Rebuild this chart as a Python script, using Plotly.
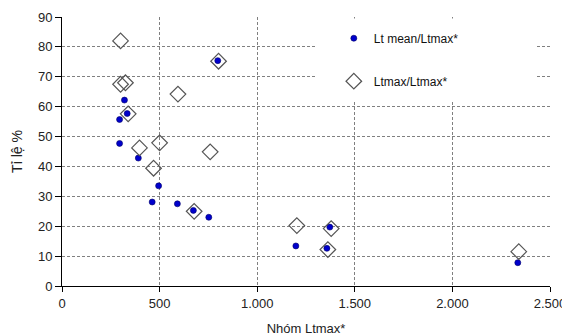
import plotly.graph_objects as go

# Data
mean_x = [320, 295, 334, 295, 391, 495, 462, 591, 673, 752, 798, 1198, 1372, 1357, 2335]
mean_y = [62.2, 55.7, 57.7, 47.7, 42.8, 33.5, 28.1, 27.5, 25.3, 23.0, 75.4, 13.4, 19.7, 12.6, 7.8]

max_x = [300, 300, 325, 339, 397, 500, 469, 594, 802, 677, 759, 1203, 1379, 1362, 2340]
max_y = [82.0, 67.5, 68.0, 57.6, 46.2, 47.9, 39.4, 64.2, 75.2, 25.0, 44.9, 20.2, 19.2, 12.2, 11.5]

x_tickvals = [0, 500, 1000, 1500, 2000, 2500]
x_ticktext = ["0", "500", "1.000", "1.500", "2.000", "2.500"]
y_tickvals = [0, 10, 20, 30, 40, 50, 60, 70, 80, 90]

FONT = "Liberation Sans, Arial, sans-serif"
GRID = "#808080"

fig = go.Figure()
fig.add_trace(go.Scatter(
    x=mean_x, y=mean_y, mode="markers", name="Lt mean/Ltmax*",
    legendgroup="a",
    marker=dict(symbol="circle", size=6, color="#0000CC",
                line=dict(color="#000066", width=0.6)),
))
fig.add_trace(go.Scatter(
    x=max_x, y=max_y, mode="markers", name="Ltmax/Ltmax*",
    legendgroup="b",
    marker=dict(symbol="diamond-open", size=12, color="#555555",
                line=dict(color="#555555", width=1.2)),
))

# white panel behind the legend (covers gridlines, like the original)
fig.add_shape(type="rect", xref="paper", yref="paper",
              x0=0.522, x1=0.973, y0=0.69, y1=0.994,
              fillcolor="white", line=dict(width=0), layer="above")

# the page body adds an 8px offset, so the figure is 8px smaller
fig.update_layout(
    width=562, height=328,
    margin=dict(l=54, r=20, t=9, b=50, autoexpand=False),
    paper_bgcolor="white", plot_bgcolor="white",
    font=dict(family=FONT, color="#222222", size=12),
    showlegend=True,
    legend=dict(x=0.557, y=0.975, xanchor="left", yanchor="top",
                bgcolor="rgba(0,0,0,0)", borderwidth=0,
                font=dict(size=12, family=FONT, color="#111111"),
                tracegroupgap=24, itemsizing="trace"),
    xaxis=dict(
        range=[0, 2500], tickvals=x_tickvals, ticktext=x_ticktext,
        showgrid=True, gridcolor=GRID, griddash="3px,2px", gridwidth=1,
        showline=True, linecolor="black", linewidth=1,
        ticks="outside", ticklen=5, tickcolor="black",
        tickfont=dict(size=13, family=FONT, color="#222222"),
        title=dict(text="Nhóm Ltmax*", font=dict(size=13, family=FONT, color="#222222"), standoff=14),
        zeroline=False, mirror=False, automargin=False,
    ),
    yaxis=dict(
        range=[0, 90], tickvals=y_tickvals,
        showgrid=True, gridcolor=GRID, griddash="3px,2px", gridwidth=1,
        showline=True, linecolor="black", linewidth=1,
        ticks="outside", ticklen=6, tickcolor="black",
        tickfont=dict(size=13, family=FONT, color="#222222"),
        title=dict(text="Tỉ lệ %", font=dict(size=14, family=FONT, color="#222222"), standoff=12),
        zeroline=False, automargin=False,
    ),
)

fig.write_html("out.html")
